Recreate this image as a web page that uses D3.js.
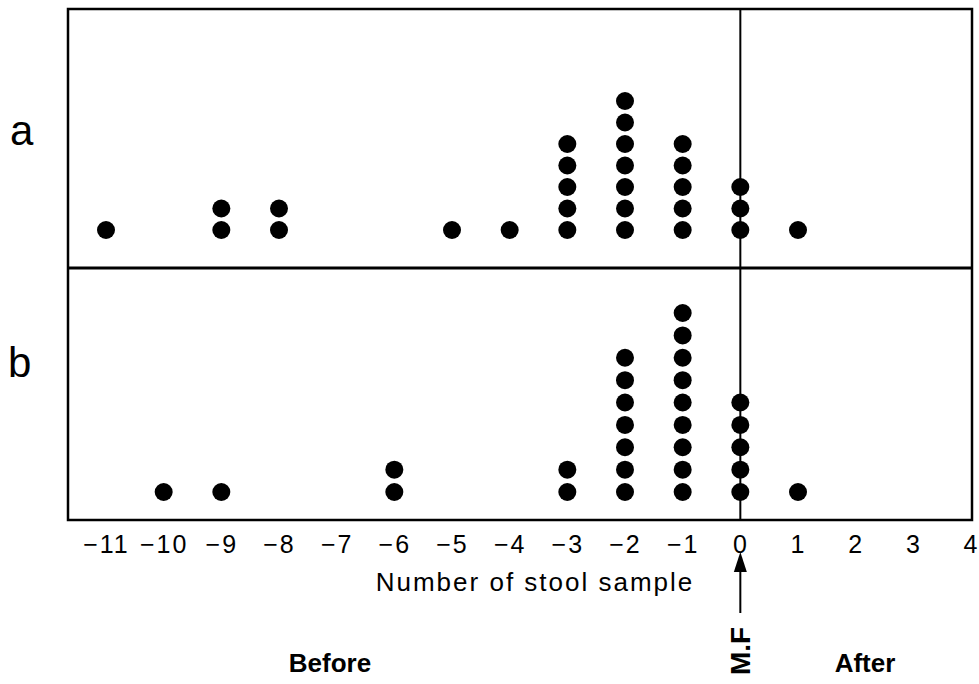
<!DOCTYPE html>
<html>
<head>
<meta charset="utf-8">
<script src="https://cdn.jsdelivr.net/npm/d3@7"></script>
<style>
  html, body { margin: 0; padding: 0; background: #fff; }
  svg { display: block; }
  text { font-family: "Liberation Sans", Arial, sans-serif; fill: #000; }
</style>
</head>
<body>
<svg id="chart" width="979" height="684"></svg>
<script>
// Stool sample number relative to the event (M.F at 0)
const tickValues = [-11, -10, -9, -8, -7, -6, -5, -4, -3, -2, -1, 0, 1, 2, 3, 4];

// Panel a: sample position and number of cases at that position
const aSamples = [-11, -9, -8, -5, -4, -3, -2, -1, 0, 1];
const aCounts  = [  1,  2,  2,  1,  1,  5,  7,  5, 3, 1];

// Panel b
const bSamples = [-10, -9, -6, -3, -2, -1, 0, 1];
const bCounts  = [  1,  1,  2,  2,  7,  9, 5, 1];

const panelLabels = ["a", "b"];

const svg = d3.select("#chart");

const frame = { left: 68, right: 972, top: 9, mid: 268, bottom: 520 };

const x = d3.scaleLinear().domain([-11, 1]).range([106, 798]);
const yA = d3.scaleLinear().domain([0, 6]).range([230, 101]);
const yB = d3.scaleLinear().domain([0, 8]).range([492, 313]);

function stack(samples, counts) {
  const pts = [];
  samples.forEach((s, i) => {
    for (let k = 0; k < counts[i]; k++) pts.push({ s, k });
  });
  return pts;
}

// Frame, divider and the M.F reference line
const g = svg.append("g").attr("stroke", "#000").attr("fill", "none");
g.append("rect")
  .attr("x", frame.left).attr("y", frame.top)
  .attr("width", frame.right - frame.left)
  .attr("height", frame.bottom - frame.top)
  .attr("stroke-width", 2.5);
g.append("line")
  .attr("x1", frame.left).attr("x2", frame.right)
  .attr("y1", frame.mid).attr("y2", frame.mid)
  .attr("stroke-width", 3);
g.append("line")
  .attr("x1", x(0)).attr("x2", x(0))
  .attr("y1", frame.top).attr("y2", frame.bottom)
  .attr("stroke-width", 2);

// Dots
const r = 9;
svg.append("g").selectAll("circle.a")
  .data(stack(aSamples, aCounts)).join("circle")
  .attr("cx", d => x(d.s)).attr("cy", d => yA(d.k)).attr("r", r)
  .attr("fill", "#000");
svg.append("g").selectAll("circle.b")
  .data(stack(bSamples, bCounts)).join("circle")
  .attr("cx", d => x(d.s)).attr("cy", d => yB(d.k)).attr("r", r)
  .attr("fill", "#000");

// Panel letters
svg.append("text").attr("x", 10).attr("y", 145)
  .style("font-size", "42px").text(panelLabels[0]);
svg.append("text").attr("x", 8).attr("y", 377)
  .style("font-size", "42px").text(panelLabels[1]);

// X axis labels
const axis = d3.axisBottom(x).tickValues(tickValues).tickSize(0).tickPadding(0);
const ax = svg.append("g").attr("transform", `translate(0,${frame.bottom + 15})`).call(axis);
ax.select(".domain").remove();
ax.selectAll("text")
  .attr("dy", "0.71em")
  .style("font-family", "'Liberation Sans', Arial, sans-serif")
  .style("font-size", "25px")
  .style("letter-spacing", "2px")
  .attr("fill", "#000");

svg.append("text")
  .attr("x", 535).attr("y", 591)
  .attr("text-anchor", "middle")
  .style("font-size", "26px")
  .style("letter-spacing", "2px")
  .text("Number of stool sample");

// Arrow marking M.F
svg.append("line")
  .attr("x1", x(0)).attr("x2", x(0))
  .attr("y1", 566).attr("y2", 613)
  .attr("stroke", "#000").attr("stroke-width", 2);
svg.append("path")
  .attr("d", `M${x(0)},552 L${x(0) - 6.5},572 L${x(0) + 6.5},572 Z`)
  .attr("fill", "#000");

svg.append("text")
  .attr("transform", `translate(${x(0) + 10},651) rotate(-90)`)
  .attr("text-anchor", "middle")
  .style("font-size", "28px")
  .style("font-weight", "bold")
  .text("M.F");

svg.append("text")
  .attr("x", 330).attr("y", 672)
  .attr("text-anchor", "middle")
  .style("font-size", "26px")
  .style("font-weight", "bold")
  .text("Before");

svg.append("text")
  .attr("x", 865).attr("y", 672)
  .attr("text-anchor", "middle")
  .style("font-size", "26px")
  .style("font-weight", "bold")
  .text("After");
</script>
</body>
</html>
